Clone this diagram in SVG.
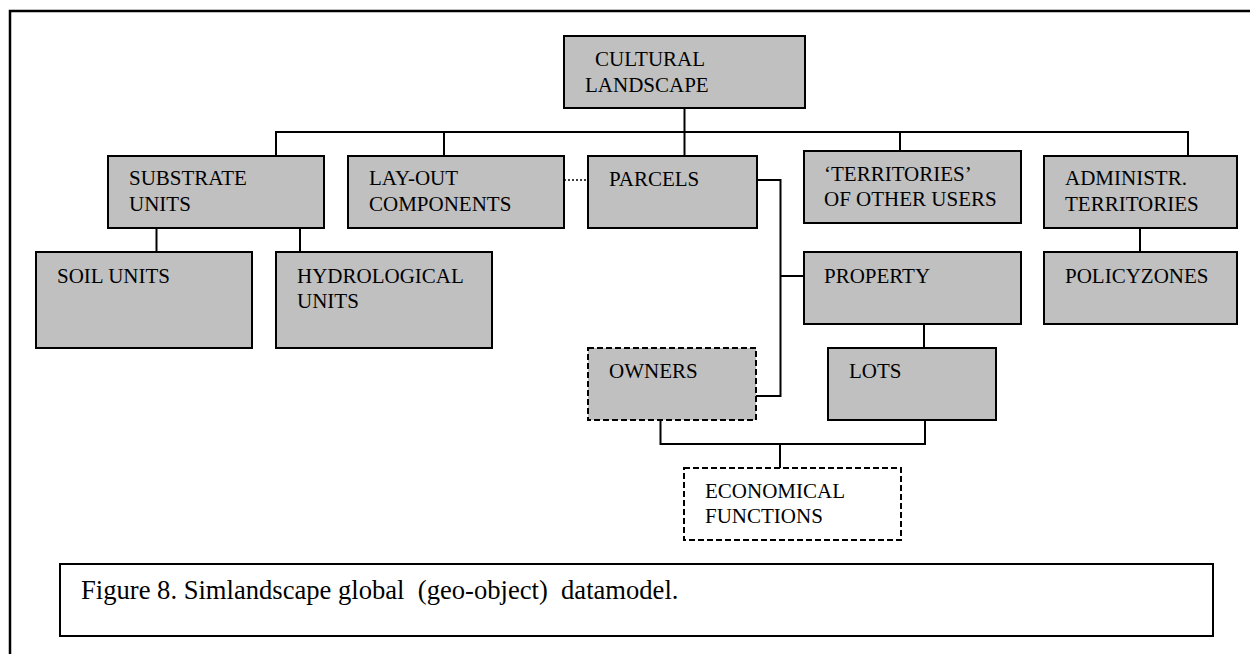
<svg xmlns="http://www.w3.org/2000/svg" width="1250" height="654" viewBox="0 0 1250 654">
<style>
text{font-family:"Liberation Serif","Times New Roman",serif;font-size:21px;fill:#000}
.cap{font-size:26.6px}
.box{fill:#c0c0c0;stroke:#000;stroke-width:2}
.dash{fill:#c0c0c0;stroke:#000;stroke-width:2;stroke-dasharray:6 3}
.dashw{fill:#fff;stroke:#000;stroke-width:2;stroke-dasharray:6 3}
.ln{fill:none;stroke:#000;stroke-width:2}
.dot{fill:none;stroke:#000;stroke-width:1.5;stroke-dasharray:2 2}
</style>
<rect x="0" y="0" width="1250" height="654" fill="#fff"/>
<rect x="10" y="11" width="1260" height="670" fill="none" stroke="#000" stroke-width="2.5"/>
<g id="connectors">
<polyline class="ln" points="276,156 276,132 1188,132 1188,156"/>
<line class="ln" x1="684.5" y1="108" x2="684.5" y2="156"/>
<line class="ln" x1="444" y1="132" x2="444" y2="156"/>
<line class="ln" x1="900" y1="132" x2="900" y2="151"/>
<line class="ln" x1="156.5" y1="228" x2="156.5" y2="252"/>
<line class="ln" x1="300" y1="228" x2="300" y2="252"/>
<line class="dot" x1="564" y1="180" x2="588" y2="180"/>
<polyline class="ln" points="757,180 780.5,180 780.5,396 756,396"/>
<line class="ln" x1="780.5" y1="276" x2="804" y2="276"/>
<line class="ln" x1="1140" y1="228" x2="1140" y2="252"/>
<line class="ln" x1="924" y1="324" x2="924" y2="348"/>
<polyline class="ln" points="660.5,420 660.5,444 925,444 925,420"/>
<line class="ln" x1="780" y1="444" x2="780" y2="468"/>
</g>
<g id="cultural"><rect class="box" x="564" y="36" width="241" height="72"/><text x="595" y="66">CULTURAL</text><text x="585" y="92">LANDSCAPE</text></g>
<g id="substrate"><rect class="box" x="108" y="156" width="216" height="72"/><text x="129" y="185">SUBSTRATE</text><text x="129" y="211">UNITS</text></g>
<g id="layout"><rect class="box" x="348" y="156" width="216" height="72"/><text x="369" y="185">LAY-OUT</text><text x="369" y="211">COMPONENTS</text></g>
<g id="parcels"><rect class="box" x="588" y="156" width="169" height="72"/><text x="609" y="186">PARCELS</text></g>
<g id="territories"><rect class="box" x="804" y="151" width="217" height="72"/><text x="824" y="181">‘TERRITORIES’</text><text x="824" y="206">OF OTHER USERS</text></g>
<g id="administr"><rect class="box" x="1044" y="156" width="193" height="72"/><text x="1065" y="185">ADMINISTR.</text><text x="1065" y="211">TERRITORIES</text></g>
<g id="soil"><rect class="box" x="36" y="252" width="216" height="96"/><text x="57" y="283">SOIL UNITS</text></g>
<g id="hydro"><rect class="box" x="276" y="252" width="216" height="96"/><text x="297" y="283">HYDROLOGICAL</text><text x="297" y="308">UNITS</text></g>
<g id="property"><rect class="box" x="804" y="252" width="217" height="72"/><text x="824" y="283">PROPERTY</text></g>
<g id="policyzones"><rect class="box" x="1044" y="252" width="193" height="72"/><text x="1065" y="283">POLICYZONES</text></g>
<g id="owners"><rect class="dash" x="588" y="348" width="168" height="72"/><text x="609" y="378">OWNERS</text></g>
<g id="lots"><rect class="box" x="828" y="348" width="168" height="72"/><text x="849" y="378">LOTS</text></g>
<g id="economical"><rect class="dashw" x="684" y="468" width="217" height="72"/><text x="705" y="498">ECONOMICAL</text><text x="705" y="523">FUNCTIONS</text></g>
<g id="caption"><rect x="60" y="564" width="1153" height="72" fill="#fff" stroke="#000" stroke-width="2"/><text class="cap" x="81" y="599" xml:space="preserve">Figure 8. Simlandscape global  (geo-object)  datamodel.</text></g>
</svg>
